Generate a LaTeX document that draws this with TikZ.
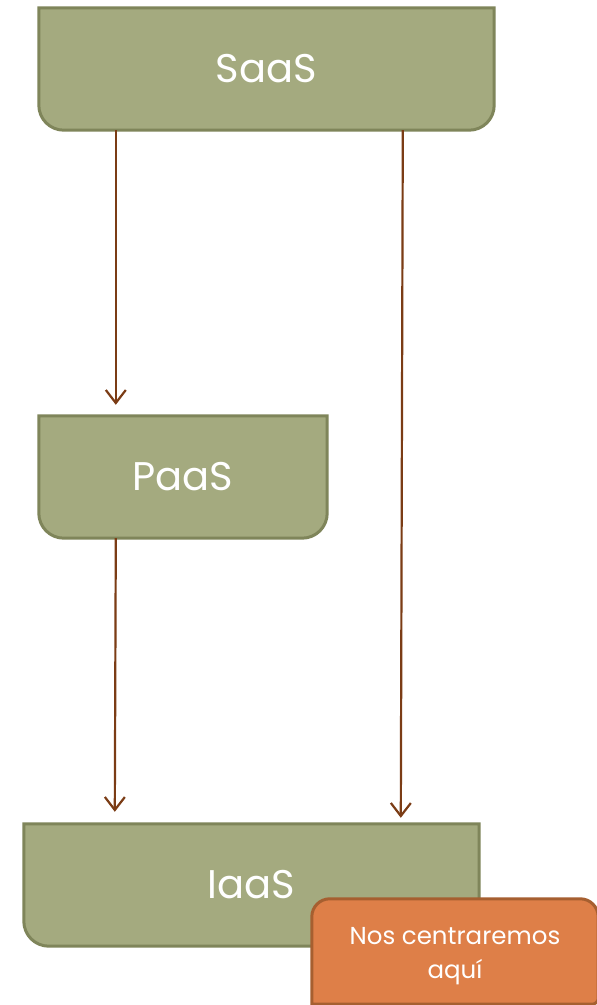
\documentclass[tikz,border=0pt]{standalone}
\usepackage{fontspec}
\setmainfont{Poppins}
\usetikzlibrary{arrows.meta,backgrounds,calc}
\definecolor{layerfill}{HTML}{A4AA7F}
\definecolor{layerline}{HTML}{7F855A}
\definecolor{notefill}{HTML}{DE7F48}
\definecolor{noteline}{HTML}{A65F30}
\definecolor{arrowbrown}{HTML}{7B3C15}
\tikzset{
  x=1pt, y=1pt,
  layer/.style={draw=none, inner sep=0pt, text=white, font=\fontsize{40}{48}\selectfont},
  layershape/.style={fill=layerfill, draw=layerline, line width=3pt},
  noteshape/.style={fill=notefill, draw=noteline, line width=3pt},
  note/.style={draw=none, inner sep=0pt, text=white, align=center,
    font=\fontsize{24.5}{34}\selectfont},
  flow/.style={draw=arrowbrown, line width=2.2pt,
    -{Straight Barb[length=13pt, width=20pt, line width=2.2pt]}},
}
% box with square top corners and rounded bottom corners
\newcommand{\layerbox}[1]{%
  \path[layershape] (#1.north west) -- (#1.north east)
    -- ([yshift=25pt]#1.south east) arc[start angle=0, end angle=-90, radius=25pt]
    -- ([xshift=25pt]#1.south west) arc[start angle=270, end angle=180, radius=25pt]
    -- cycle;}
\begin{document}
\begin{tikzpicture}
\useasboundingbox (0,0) rectangle (597,1005);
\begin{scope}[on background layer]
  \fill[white] (0,0) rectangle (597,1005);
\end{scope}

\node[layer, minimum width=455pt, minimum height=122pt] (saas) at (266.5,936) {SaaS};
\node[layer, minimum width=288pt, minimum height=122pt] (paas) at (183,528) {PaaS};
\node[layer, minimum width=455pt, minimum height=122pt] (iaas) at (251.5,120) {IaaS};
\node[note, minimum width=286pt, minimum height=114pt] (focus) at (455,49)
  {Nos centraremos\\aquí};

\begin{scope}[on background layer]
  \layerbox{saas}
  \layerbox{paas}
  \layerbox{iaas}
  \path[noteshape] ([yshift=9pt]focus.south west)
    -- ([yshift=-18pt]focus.north west) arc[start angle=180, end angle=90, radius=18pt]
    -- ([xshift=-18pt]focus.north east) arc[start angle=90, end angle=0, radius=18pt]
    -- ([yshift=15pt]focus.south east) arc[start angle=0, end angle=-90, radius=6pt]
    -- cycle;
\end{scope}

\draw[flow] ([xshift=77pt]saas.south west) -- ([xshift=77pt, yshift=11pt]paas.north west);
\draw[flow] ([xshift=77pt]paas.south west) -- ([xshift=91pt, yshift=12pt]iaas.north west);
\draw[flow] ([xshift=364pt]saas.south west) -- ([xshift=377pt, yshift=6pt]iaas.north west);
\end{tikzpicture}
\end{document}
